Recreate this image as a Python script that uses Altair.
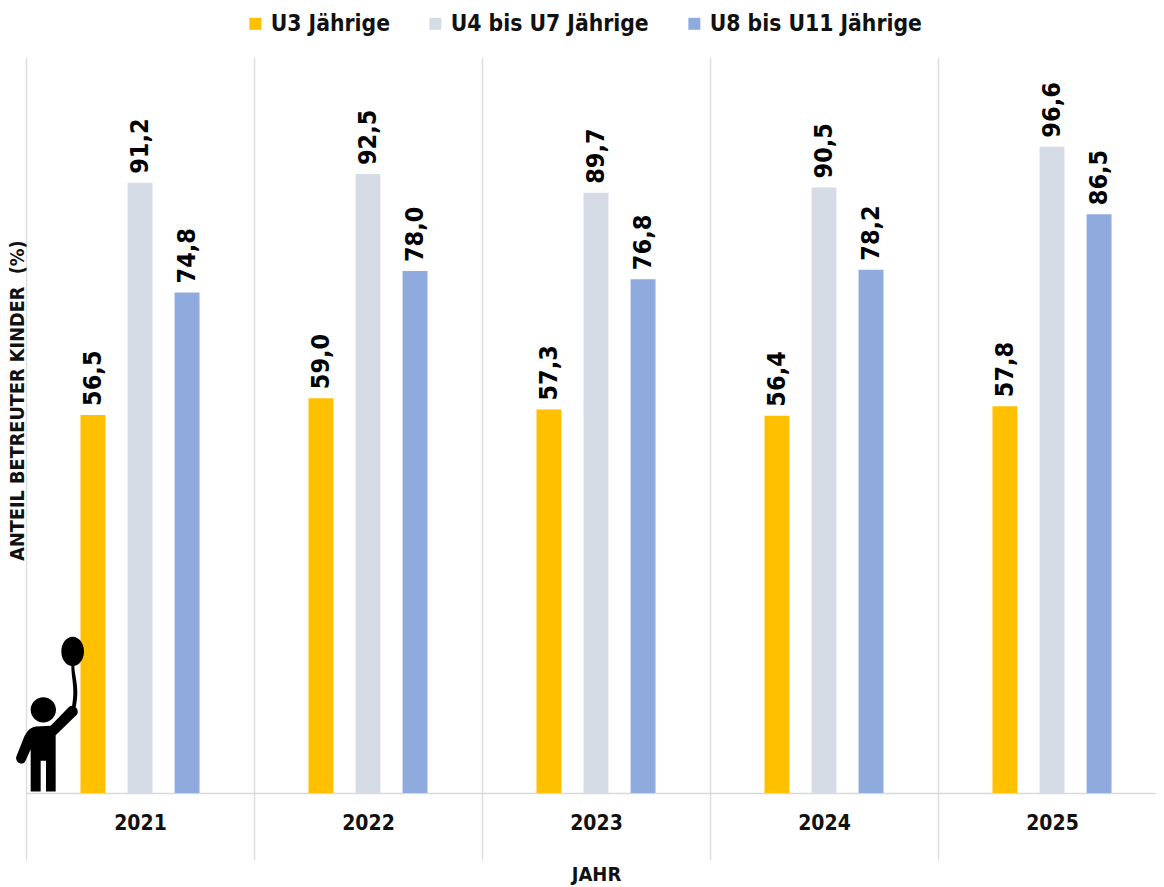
import altair as alt
import pandas as pd

years = ["2021", "2022", "2023", "2024", "2025"]
groups = ["U3 Jährige", "U4 bis U7 Jährige", "U8 bis U11 Jährige"]
colors = ["#FFC000", "#D6DCE5", "#8FAADC"]
u3 = [56.5, 59.0, 57.3, 56.4, 57.8]
u4_7 = [91.2, 92.5, 89.7, 90.5, 96.6]
u8_11 = [74.8, 78.0, 76.8, 78.2, 86.5]
FONT = "DejaVu Sans Condensed"
INK = "#111111"

rows = []
for g, vals in zip(groups, [u3, u4_7, u8_11]):
    for y, v in zip(years, vals):
        rows.append({"Jahr": y, "Gruppe": g, "Wert": v})
df = pd.DataFrame(rows)

# pictogram drawn as one symbol path, sketched on a 780 px crop grid
def person_path():
    cx, cy, k = 151.5, 287.0, 232.5
    def p(x, y):
        return f"{(x-cx)/k:.4f} {(y-cy)/k:.4f}"
    def r(v):
        return f"{v/k:.4f}"
    body = ("M" + p(92, 515) + "L" + p(122, 515) + "L" + p(122, 423) + "L" + p(138, 423) + "L" + p(138, 515)
            + "L" + p(167, 515) + "L" + p(167, 346) + "L" + p(231, 284)
            + "C" + p(240, 268) + " " + p(220, 250) + " " + p(206, 262)
            + "L" + p(152, 318) + "L" + p(108, 320)
            + "C" + p(88, 322) + " " + p(78, 340) + " " + p(72, 352)
            + "L" + p(49, 410) + "C" + p(44, 428) + " " + p(70, 442) + " " + p(78, 420)
            + "L" + p(92, 388) + "Z")
    head = ("M" + p(92, 270) + "A" + r(38) + " " + r(38) + " 0 1 0 " + p(168, 270)
            + "A" + r(38) + " " + r(38) + " 0 1 0 " + p(92, 270) + "Z")
    balloon = ("M" + p(184, 95) + "A" + r(34) + " " + r(44) + " 0 1 0 " + p(252, 95)
               + "A" + r(34) + " " + r(44) + " 0 1 0 " + p(184, 95) + "Z")
    string = ("M" + p(214, 138) + "C" + p(214, 180) + " " + p(226, 200) + " " + p(216, 260)
              + "L" + p(227, 262) + "C" + p(240, 200) + " " + p(223, 170) + " " + p(223, 138) + "Z")
    return body + head + balloon + string

x = alt.X("Jahr:N", sort=years,
          scale=alt.Scale(range=[0, 1140], paddingInner=0, paddingOuter=0),
          axis=alt.Axis(title="JAHR", labelAngle=0, tickBand="extent", grid=True,
                        gridColor="#DEDEDE", gridWidth=1.5, tickColor="#DEDEDE", tickSize=67, tickWidth=1.5,
                        domainColor="#D9D9D9", domainWidth=1.5,
                        labelFont=FONT, labelFontSize=21, labelFontWeight="bold", labelColor=INK,
                        labelPadding=-48, titleFont=FONT, titleFontSize=20, titleFontWeight="bold",
                        titleColor=INK, titleY=71, titleX=570))
xo = alt.XOffset("Gruppe:N", sort=groups, scale=alt.Scale(range=[54.5, 173.5], paddingInner=0.47, paddingOuter=0))
y = alt.Y("Wert:Q", scale=alt.Scale(domain=[0, 110]),
          axis=alt.Axis(title="ANTEIL BETREUTER KINDER \u00a0(%)", grid=False, labels=False, ticks=False, domain=False,
                        titleFont=FONT, titleFontSize=19.7, titleFontWeight="bold", titleColor=INK,
                        titleX=1, titleY=343))

base = alt.Chart(df).encode(x=x, xOffset=xo, y=y)
bars = base.mark_bar().encode(
    color=alt.Color("Gruppe:N", sort=groups, scale=alt.Scale(domain=groups, range=colors),
                    legend=alt.Legend(title=None, orient="none", direction="horizontal", columns=3,
                                      legendX=218, legendY=-45, symbolType="square", symbolSize=144,
                                      symbolStrokeWidth=0, columnPadding=34, labelLimit=400, labelOffset=4,
                                      labelFont=FONT, labelFontSize=22.7, labelFontWeight="bold", labelColor=INK))
)
labels = base.transform_calculate(label="replace(format(datum.Wert,'.1f'),'.',',')").mark_text(
    angle=270, align="left", baseline="middle", dx=9, font=FONT, fontSize=25, fontWeight="bold", color="#000000"
).encode(text="label:N")
person = alt.Chart(pd.DataFrame({"n": ["Kind"]})).mark_point(
    shape=person_path(), filled=True, fill="#000000", size=24025, opacity=1
).encode(x=alt.value(24.5), y=alt.value(658.5))

chart = alt.layer(bars, labels, person).properties(
    width=1130, height=736,
    autosize=alt.AutoSizeParams(type="none"),
    padding={"left": 18, "top": 49, "right": 0, "bottom": 93},
).configure_view(stroke=None)
chart.save("out.html", embed_options={"renderer": "svg", "actions": False})
